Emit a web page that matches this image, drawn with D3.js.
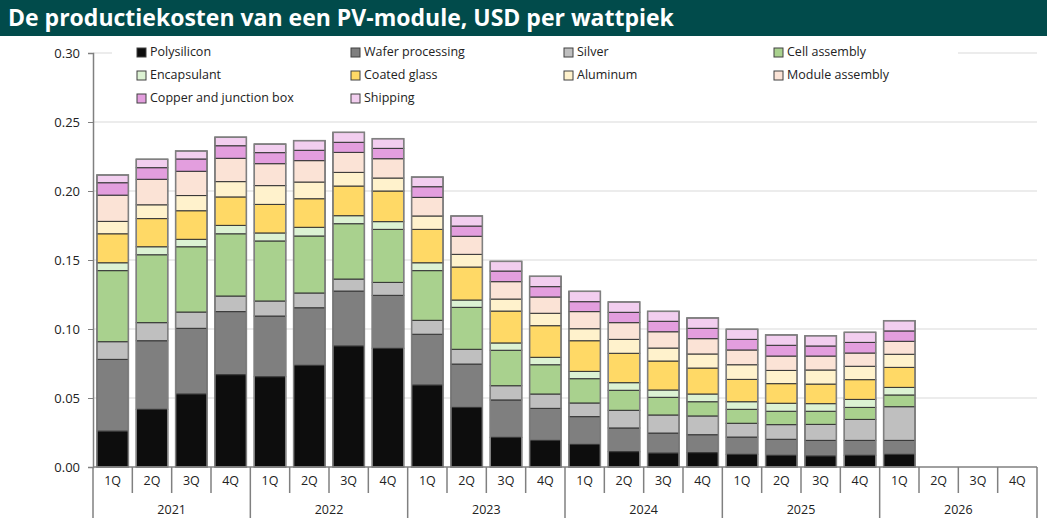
<!DOCTYPE html>
<html>
<head>
<meta charset="utf-8">
<script src="https://cdn.jsdelivr.net/npm/d3@7"></script>
<style>
  body { margin: 0; background: #fff; }
  text { font-family: "Open Sans", sans-serif; }
</style>
</head>
<body>
<div id="chart"></div>
<script>
// quarters + years on the x axis
var quarters = ["1Q","2Q","3Q","4Q"];
var years = ["2021","2022","2023","2024","2025","2026"];

var seriesNames = ["Polysilicon","Wafer processing","Silver","Cell assembly","Encapsulant",
  "Coated glass","Aluminum","Module assembly","Copper and junction box","Shipping"];
var colors = ["#0d0d0d","#7f7f7f","#bfbfbf","#a9d18e","#dcf2d3",
  "#ffd966","#fff2cc","#fbe3d6","#e39ede","#f2ceef"];

// USD per Wp, one value per quarter 1Q2021 .. 1Q2026 (2Q-4Q 2026 empty)
var polysilicon = [.026,.0418,.0529,.0669,.0654,.0737,.0877,.086,.0594,.0432,.0215,.0193,.0164,.0111,.0101,.0104,.0092,.0085,.008,.0085,.0092];
var wafer       = [.052,.0497,.0476,.0457,.044,.0417,.0398,.0384,.0368,.0314,.0271,.0232,.0201,.0172,.0145,.013,.0125,.0116,.0113,.0108,.0101];
var silver      = [.0128,.0131,.0118,.0113,.0109,.0107,.0087,.0094,.0101,.0107,.0103,.0104,.0099,.0128,.0131,.0136,.01,.0106,.0116,.0152,.0244];
var cell        = [.0515,.0492,.0473,.0451,.0435,.0413,.0401,.0384,.036,.0304,.0257,.0212,.0176,.0145,.0128,.0103,.0101,.0097,.0095,.0087,.0085];
var encapsulant = [.0057,.0058,.0054,.0061,.0058,.0063,.0058,.0056,.0057,.0053,.0053,.0054,.0053,.0055,.0053,.0056,.0055,.0058,.0055,.0058,.0055];
var glass       = [.021,.0204,.0207,.0206,.0207,.0207,.0215,.0222,.0242,.0239,.0231,.0229,.0222,.0213,.021,.0188,.0162,.0142,.0142,.0143,.0145];
var aluminum    = [.009,.010,.011,.0111,.0136,.0121,.0099,.0094,.0097,.0092,.0087,.009,.0087,.0101,.0094,.0102,.0106,.0096,.0102,.0097,.0095];
var moduleAsm   = [.019,.0185,.0176,.0169,.0159,.0155,.0145,.014,.0135,.0131,.0126,.0118,.0124,.0121,.0118,.0111,.0107,.0104,.0101,.0096,.0094];
var copper      = [.009,.0084,.0089,.0091,.008,.0075,.0073,.0075,.0077,.0074,.0077,.0075,.0072,.0075,.0076,.0075,.0077,.0078,.0073,.0077,.0075];
var shipping    = [.0056,.0061,.0058,.0062,.0062,.007,.0072,.007,.007,.0073,.007,.0075,.0075,.0075,.0072,.0075,.0073,.0075,.0074,.0073,.0074];

var yTicks = [0, 0.05, 0.10, 0.15, 0.20, 0.25, 0.30];

var allSeries = [polysilicon, wafer, silver, cell, encapsulant, glass, aluminum, moduleAsm, copper, shipping];

// build table: one row per quarter
var slots = [];
years.forEach(function(y){ quarters.forEach(function(q){ slots.push(y + "-" + q); }); });
var table = slots.map(function(s, i) {
  var row = {slot: s};
  seriesNames.forEach(function(n, j) { row[n] = allSeries[j][i] == null ? 0 : allSeries[j][i]; });
  return row;
});

var W = 1047, H = 528;

var svg = d3.select("#chart").append("svg")
  .attr("width", W).attr("height", H);

// title bar
svg.append("rect").attr("x", 0).attr("y", 0).attr("width", W).attr("height", 36).attr("fill", "#014b4b");
svg.append("text").attr("x", 8).attr("y", 26)
  .attr("fill", "#fff").style("font-size", "23px").style("font-weight", "700")
  .text("De productiekosten van een PV-module, USD per wattpiek");

var x = d3.scaleBand().domain(slots).range([93, 1037]).paddingInner(0.2).paddingOuter(0.1);
var y = d3.scaleLinear().domain([0, 0.30]).range([467, 53]);

// gridlines
svg.append("g").selectAll("line").data(yTicks.slice(1)).enter().append("line")
  .attr("x1", 93).attr("x2", 1037)
  .attr("y1", function(d){ return y(d); }).attr("y2", function(d){ return y(d); })
  .attr("stroke", "#d9d9d9").attr("stroke-width", 1);

// y axis
var yAxis = svg.append("g").attr("transform", "translate(93,0)")
  .call(d3.axisLeft(y).tickValues(yTicks).tickFormat(d3.format(".2f")).tickSize(5).tickPadding(8));
yAxis.select(".domain").attr("stroke", "#808080").attr("stroke-width", 1.5);
yAxis.selectAll(".tick line").attr("stroke", "#808080");
yAxis.selectAll("text").style("font-size", "13px").attr("fill", "#222").style("font-family", "Open Sans");

// bars
var stack = d3.stack().keys(seriesNames)(table);
var layer = svg.append("g").selectAll("g").data(stack).enter().append("g")
  .attr("fill", function(d, i){ return colors[i]; });
layer.selectAll("rect").data(function(d){ return d; }).enter()
  .filter(function(d){ return d[1] - d[0] > 0; })
  .append("rect")
    .attr("x", function(d){ return x(d.data.slot); })
    .attr("y", function(d){ return y(d[1]); })
    .attr("width", x.bandwidth())
    .attr("height", function(d){ return y(d[0]) - y(d[1]); })
    .attr("stroke", "#333").attr("stroke-width", 1);

// outer outline of each bar
var totals = table.map(function(r){ return {slot: r.slot, total: d3.sum(seriesNames, function(n){ return r[n]; })}; });
svg.append("g").selectAll("rect").data(totals.filter(function(d){ return d.total > 0; })).enter().append("rect")
  .attr("x", function(d){ return x(d.slot); })
  .attr("y", function(d){ return y(d.total); })
  .attr("width", x.bandwidth())
  .attr("height", function(d){ return y(0) - y(d.total); })
  .attr("fill", "none").attr("stroke", "#808080").attr("stroke-width", 1.5);

// x axis: baseline, quarter and year separators
var step = x.step();
var x0 = 93;
svg.append("line").attr("x1", x0).attr("x2", 1037).attr("y1", 467).attr("y2", 467)
  .attr("stroke", "#808080").attr("stroke-width", 1.5);
var axisG = svg.append("g");
slots.forEach(function(s, i) {
  var isYear = i % 4 === 0;
  axisG.append("line")
    .attr("x1", x0 + i * step).attr("x2", x0 + i * step)
    .attr("y1", 467).attr("y2", isYear ? 518 : 493)
    .attr("stroke", "#808080").attr("stroke-width", 1.5);
  axisG.append("text")
    .attr("x", x(s) + x.bandwidth() / 2).attr("y", 485)
    .attr("text-anchor", "middle").style("font-size", "12.5px").attr("fill", "#222")
    .text(s.split("-")[1]);
});
axisG.append("line").attr("x1", 1037).attr("x2", 1037).attr("y1", 467).attr("y2", 518)
  .attr("stroke", "#808080").attr("stroke-width", 1.5);
years.forEach(function(yr, i) {
  axisG.append("text")
    .attr("x", x0 + (i * 4 + 2) * step).attr("y", 514)
    .attr("text-anchor", "middle").style("font-size", "12.5px").attr("fill", "#222")
    .text(yr);
});

// legend (white box covers the top gridline)
svg.append("rect").attr("x", 112).attr("y", 42).attr("width", 846).attr("height", 66).attr("fill", "#fff");
var legCols = [137, 351, 564, 774];
var legRows = [53, 76, 99];
var legend = svg.append("g").selectAll("g").data(seriesNames).enter().append("g")
  .attr("transform", function(d, i){ return "translate(" + legCols[i % 4] + "," + legRows[Math.floor(i / 4)] + ")"; });
legend.append("rect").attr("x", 0).attr("y", -5).attr("width", 9).attr("height", 9)
  .attr("fill", function(d, i){ return colors[i]; }).attr("stroke", "#404040").attr("stroke-width", 1);
legend.append("text").attr("x", 13).attr("y", 0).attr("dominant-baseline", "middle")
  .style("font-size", "12.5px").attr("fill", "#222").text(function(d){ return d; });
</script>
</body>
</html>
